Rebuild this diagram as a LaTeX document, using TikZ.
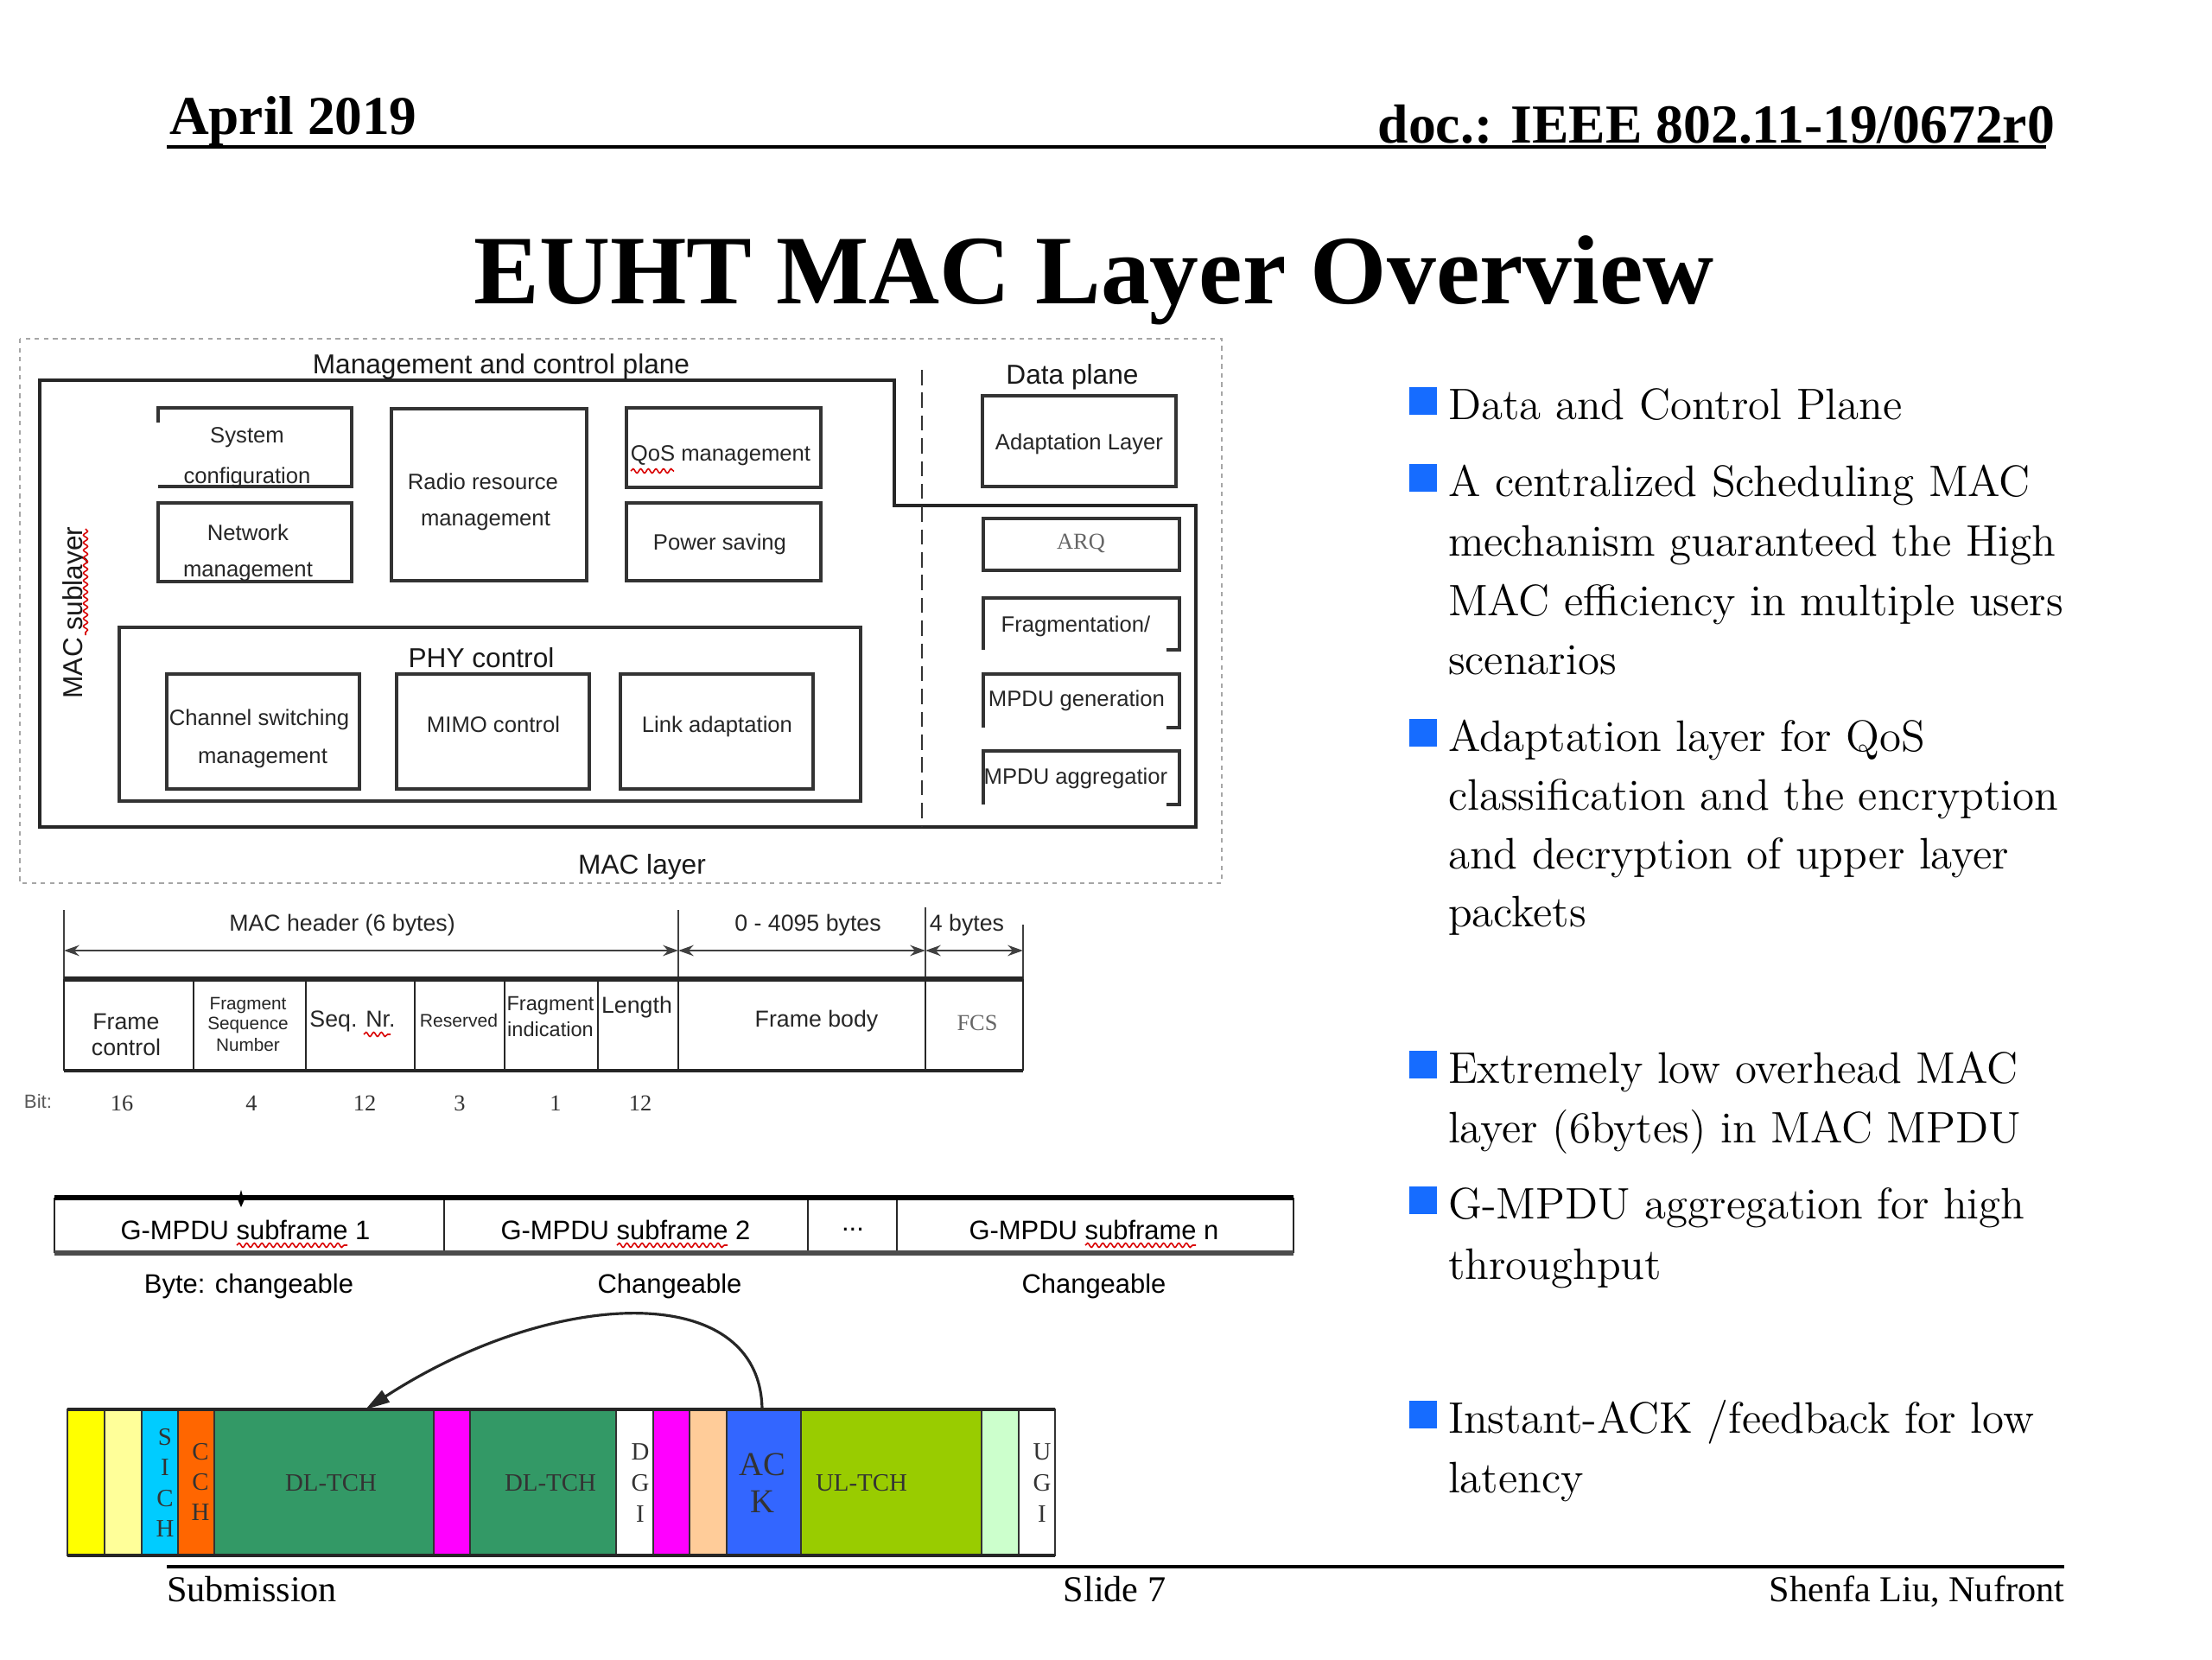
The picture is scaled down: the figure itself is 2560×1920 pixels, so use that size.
\documentclass[tikz,border=0pt]{standalone}
\usepackage{fontspec}
\newfontfamily\tnr{Liberation Serif}
\newfontfamily\ari{Liberation Sans}
\usetikzlibrary{arrows.meta,decorations.pathmorphing}
\newcommand\myfs[1]{\fontsize{#1}{#1}\selectfont}
\definecolor{bulblue}{RGB}{22,108,255}
\definecolor{cYlw}{RGB}{255,255,0}
\definecolor{cLylw}{RGB}{255,255,153}
\definecolor{cCyan}{RGB}{0,204,255}
\definecolor{cOrng}{RGB}{255,102,0}
\definecolor{cDgrn}{RGB}{51,153,102}
\definecolor{cMag}{RGB}{255,0,255}
\definecolor{cPeach}{RGB}{255,204,153}
\definecolor{cBlue}{RGB}{51,102,255}
\definecolor{cLime}{RGB}{153,204,0}
\definecolor{cPale}{RGB}{204,255,204}
\tikzset{
  every node/.style={inner sep=0pt, outer sep=0pt},
  hdr/.style={font=\tnr\bfseries\myfs{18}},
  ttl/.style={font=\tnr\bfseries\myfs{32.3}},
  ftr/.style={font=\tnr\myfs{12}},
  rulebar/.style={line width=1.2pt, black},
  lbl/.style={font=\ari\myfs{7.3}, text=black!85},
  tlbl/.style={font=\ari\myfs{7.6}, text=black!85},
  head/.style={font=\ari\myfs{9}, text=black!90},
  blk/.style={draw=black!80, line width=0.9pt},
  outerln/.style={draw=black!85, line width=1.2pt},
  dotframe/.style={draw=black!35, line width=0.6pt, dash pattern=on 1.5pt off 1.5pt},
  divline/.style={draw=black!80, line width=0.8pt, dash pattern=on 5pt off 2.5pt},
  squig/.style={draw=red!85!black, line width=0.45pt, decorate, decoration={snake, amplitude=0.7pt, segment length=2.5pt}},
  dimarrow/.style={draw=black!75, line width=0.8pt, {Stealth[length=5pt,width=3.5pt]}-{Stealth[length=5pt,width=3.5pt]}},
  tabln/.style={draw=black!85, line width=0.8pt},
  serifnum/.style={font=\tnr\myfs{7.5}, text=black!80},
  seg/.style={draw=black!80, line width=0.6pt},
  segtxt/.style={font=\tnr\myfs{8.2}, text=black!80},
  bul/.style={font=\myfs{14.5}, anchor=base west},
  bsq/.style={fill=bulblue},
}
\begin{document}
\begin{tikzpicture}[x=0.01cm,y=-0.01cm]
\useasboundingbox (0,0) rectangle (2560,1920);

% ---------- header / title / footer
\node[hdr, anchor=base west] (date) at (196,155) {April 2019};
\node[hdr, font=\tnr\bfseries\myfs{18.1}, anchor=base east] (doc) at (2378,165) {doc.: IEEE 802.11-19/0672r0};
\draw[rulebar] (193,170) -- (2368,170);
\node[ttl, anchor=base] (title) at (1266,351) {EUHT MAC Layer Overview};
\draw[rulebar] (193,1813) -- (2389,1813);
\node[ftr, anchor=base west] (sub) at (193,1853) {Submission};
\node[ftr, anchor=base] (slide) at (1290,1853) {Slide 7};
\node[ftr, anchor=base east] (auth) at (2389,1853) {Shenfa Liu, Nufront};

% ---------- MAC layer figure
\draw[dotframe] (23,392) rectangle (1414,1022);
\draw[outerln] (46,440) -- (1035,440) -- (1035,585) -- (1384,585) -- (1384,957) -- (46,957) -- cycle;
\draw[divline] (1067,428) -- (1067,957);
\node[head] (mcp) at (580,424) {Management and control plane};
\node[head] (dp) at (1241,436) {Data plane};

\draw[blk] (1137,458) rectangle (1361,563);
\node[lbl] (adapt) at (1249,514) {Adaptation Layer};
\draw[blk] (1138,600) rectangle (1365,660);
\node[font=\tnr\myfs{7.5}, text=black!60] (arq) at (1251,629) {ARQ};
\draw[blk] (1138,752) -- (1138,692) -- (1365,692) -- (1365,752) -- (1350,752);
\node[lbl] (frag) at (1245,725) {Fragmentation/};
\draw[blk] (1138,842) -- (1138,780) -- (1365,780) -- (1365,842) -- (1350,842);
\node[lbl] (gen) at (1246,811) {MPDU generation};
\draw[blk] (1138,931) -- (1138,869) -- (1365,869) -- (1365,931) -- (1350,931);
\node[lbl] (agg) at (1245,901) {MPDU aggregatior};

\draw[blk] (183,489) -- (183,472) -- (407,472) -- (407,563) -- (183,563);
\node[lbl] (sys1) at (286,506) {System};
\node[lbl] (sys2) at (286,553) {configuration};
\draw[blk] (183,582) rectangle (407,673);
\node[lbl] (net1) at (287,616) {Network};
\node[lbl] (net2) at (287,662) {management};
\draw[blk] (453,473) rectangle (679,672);
\node[lbl] (rrm1) at (559,557) {Radio resource};
\node[lbl] (rrm2) at (562,603) {management};
\draw[blk] (725,472) rectangle (950,564);
\node[lbl] (qos) at (834,527) {QoS management};
\draw[squig] (730,545) -- (780,545);
\draw[blk] (725,582) rectangle (950,672);
\node[lbl] (pwr) at (833,630) {Power saving};

\draw[blk] (138,726) rectangle (996,927);
\node[head] (phy) at (557,761) {PHY control};
\draw[blk] (193,780) rectangle (416,913);
\node[lbl] (ch1) at (300,833) {Channel switching};
\node[lbl] (ch2) at (304,878) {management};
\draw[blk] (459,780) rectangle (682,913);
\node[lbl] (mimo) at (571,838) {MIMO control};
\draw[blk] (718,780) rectangle (941,913);
\node[lbl] (link) at (830,841) {Link adaptation};

\node[head, rotate=90] (macsub) at (87,709) {MAC sublayer};
\draw[squig] (99,612) -- (99,735);
\node[head] (maclayer) at (743,1003) {MAC layer};

% ---------- MAC frame format table
\foreach \x/\t in {74/1053,785/1053,1071/1050,1184/1070}
  \draw[draw=black!75, line width=0.7pt] (\x,\t) -- (\x,1133);
\coordinate (d0) at (74,1100);
\coordinate (d1) at (785,1100);
\coordinate (d2) at (1071,1100);
\coordinate (d3) at (1184,1100);
\draw[dimarrow] (d0) -- (d1);
\draw[dimarrow] (d1) -- (d2);
\draw[dimarrow] (d2) -- (d3);
\node[tlbl] (mh) at (396,1071) {MAC header (6 bytes)};
\node[tlbl] (fbl) at (935,1071) {0 - 4095 bytes};
\node[tlbl] (fcsl) at (1119,1071) {4 bytes};

\draw[draw=black!85, line width=1.6pt] (74,1133) -- (1184,1133);
\draw[draw=black!85, line width=1.3pt] (74,1239) -- (1184,1239);
\foreach \x in {74,224,354,480,584,692,785,1071,1184}
  \draw[tabln] (\x,1133) -- (\x,1239);
\node[tlbl] (fc1) at (146,1182) {Frame};
\node[tlbl] (fc2) at (146,1212) {control};
\node[font=\ari\myfs{5.9}, text=black!85] (fs1) at (287,1163) {Fragment};
\node[font=\ari\myfs{5.9}, text=black!85] (fs2) at (287,1186) {Sequence};
\node[font=\ari\myfs{5.9}, text=black!85] (fs3) at (287,1209) {Number};
\node[tlbl] (seq) at (408,1182) {Seq. Nr.};
\draw[squig] (421,1197) -- (452,1197);
\node[font=\ari\myfs{6}, text=black!85] (res) at (531,1181) {Reserved};
\node[font=\ari\myfs{6.7}, text=black!85] (fi1) at (637,1164) {Fragment};
\node[font=\ari\myfs{6.7}, text=black!85] (fi2) at (637,1191) {indication};
\node[tlbl] (len) at (737,1166) {Length};
\node[tlbl] (fbody) at (945,1182) {Frame body};
\node[font=\tnr\myfs{7.5}, text=black!60] (fcs) at (1131,1184) {FCS};

\node[font=\ari\myfs{6.3}, text=black!65] (bit) at (44,1275) {Bit:};
\node[serifnum] (n1) at (141,1277) {16};
\node[serifnum] (n2) at (291,1277) {4};
\node[serifnum] (n3) at (422,1277) {12};
\node[serifnum] (n4) at (532,1277) {3};
\node[serifnum] (n5) at (643,1277) {1};
\node[serifnum] (n6) at (741,1277) {12};

% ---------- G-MPDU row
\foreach \x in {63,514,935,1038,1497}
  \draw[draw=black!85, line width=0.7pt] (\x,1386) -- (\x,1450);
\draw[draw=black, line width=1.5pt] (63,1386) -- (1497,1386);
\draw[draw=black!70, line width=1.8pt] (63,1450) -- (1497,1450);
\fill[black] (279,1377) -- (282.5,1389) -- (279,1397) -- (275.5,1389) -- cycle;
\node[font=\ari\myfs{8.8}] (g1) at (284,1423) {G-MPDU subframe 1};
\node[font=\ari\myfs{8.8}] (g2) at (724,1423) {G-MPDU subframe 2};
\node[font=\ari\myfs{8.8}] (gd) at (987,1423) {...};
\node[font=\ari\myfs{8.8}] (gn) at (1266,1423) {G-MPDU subframe n};
\draw[squig] (274,1441) -- (402,1441);
\draw[squig] (714,1441) -- (842,1441);
\draw[squig] (1256,1441) -- (1384,1441);
\node[font=\ari\myfs{8.8}] (c1) at (288,1488) {Byte: changeable};
\node[font=\ari\myfs{8.8}] (c2) at (775,1488) {Changeable};
\node[font=\ari\myfs{8.8}] (c3) at (1266,1488) {Changeable};

% ---------- frame bar
\foreach \a/\b/\c in {78/121/cYlw,121/164/cLylw,164/206/cCyan,206/248/cOrng,248/502/cDgrn,502/544/cMag,544/713/cDgrn,713/756/white,756/798/cMag,798/841/cPeach,841/927/cBlue,927/1136/cLime,1136/1179/cPale,1179/1221/white}
  \draw[seg, fill=\c] (\a,1631) rectangle (\b,1800);
\draw[draw=black!85, line width=1.1pt] (78,1631) -- (1221,1631);
\draw[draw=black!85, line width=1.1pt] (78,1800) -- (1221,1800);
\foreach \l/\y [count=\i] in {S/1663,I/1698,C/1734,H/1769}
  \node[segtxt] (sich\i) at (191,\y) {\l};
\foreach \l/\y [count=\i] in {C/1680,C/1715,H/1750}
  \node[segtxt] (cch\i) at (232,\y) {\l};
\foreach \l/\y [count=\i] in {D/1680,G/1716,I/1752}
  \node[segtxt] (dgi\i) at (741,\y) {\l};
\foreach \l/\y [count=\i] in {U/1680,G/1716,I/1752}
  \node[segtxt] (ugi\i) at (1206,\y) {\l};
\node[segtxt] (dl1) at (383,1716) {DL-TCH};
\node[segtxt] (dl2) at (637,1716) {DL-TCH};
\node[segtxt] (ul) at (997,1716) {UL-TCH};
\node[font=\tnr\myfs{11}, text=black!80] (ack1) at (882,1695) {AC};
\node[font=\tnr\myfs{11}, text=black!80] (ack2) at (882,1738) {K};
\coordinate (ackN) at (882,1631);
\coordinate (dlN) at (423,1631);
\draw[draw=black!85, line width=0.9pt, -{Triangle[length=8pt,width=4.5pt]}]
  (ackN) .. controls (880,1480) and (640,1490) .. (dlN);

% ---------- bullets
\foreach \y [count=\i] in {485,574,869,1253,1410,1658}
  \fill[bsq] (1631,\y-37) rectangle (1663,\y-5);
\node[bul] (b1a) at (1676,485) {Data and Control Plane};
\node[bul] (b2a) at (1676,574) {A centralized Scheduling MAC};
\node[bul] (b2b) at (1676,643) {mechanism guaranteed the High};
\node[bul] (b2c) at (1676,712) {MAC efficiency in multiple users};
\node[bul] (b2d) at (1676,780) {scenarios};
\node[bul] (b3a) at (1676,869) {Adaptation layer for QoS};
\node[bul] (b3b) at (1676,937) {classification and the encryption};
\node[bul] (b3c) at (1676,1005) {and decryption of upper layer};
\node[bul] (b3d) at (1676,1072) {packets};
\node[bul] (b4a) at (1676,1253) {Extremely low overhead MAC};
\node[bul] (b4b) at (1676,1322) {layer (6bytes) in MAC MPDU};
\node[bul] (b5a) at (1676,1410) {G-MPDU aggregation for high};
\node[bul] (b5b) at (1676,1480) {throughput};
\node[bul] (b6a) at (1676,1658) {Instant-ACK /feedback for low};
\node[bul] (b6b) at (1676,1727) {latency};
\end{tikzpicture}
\end{document}
